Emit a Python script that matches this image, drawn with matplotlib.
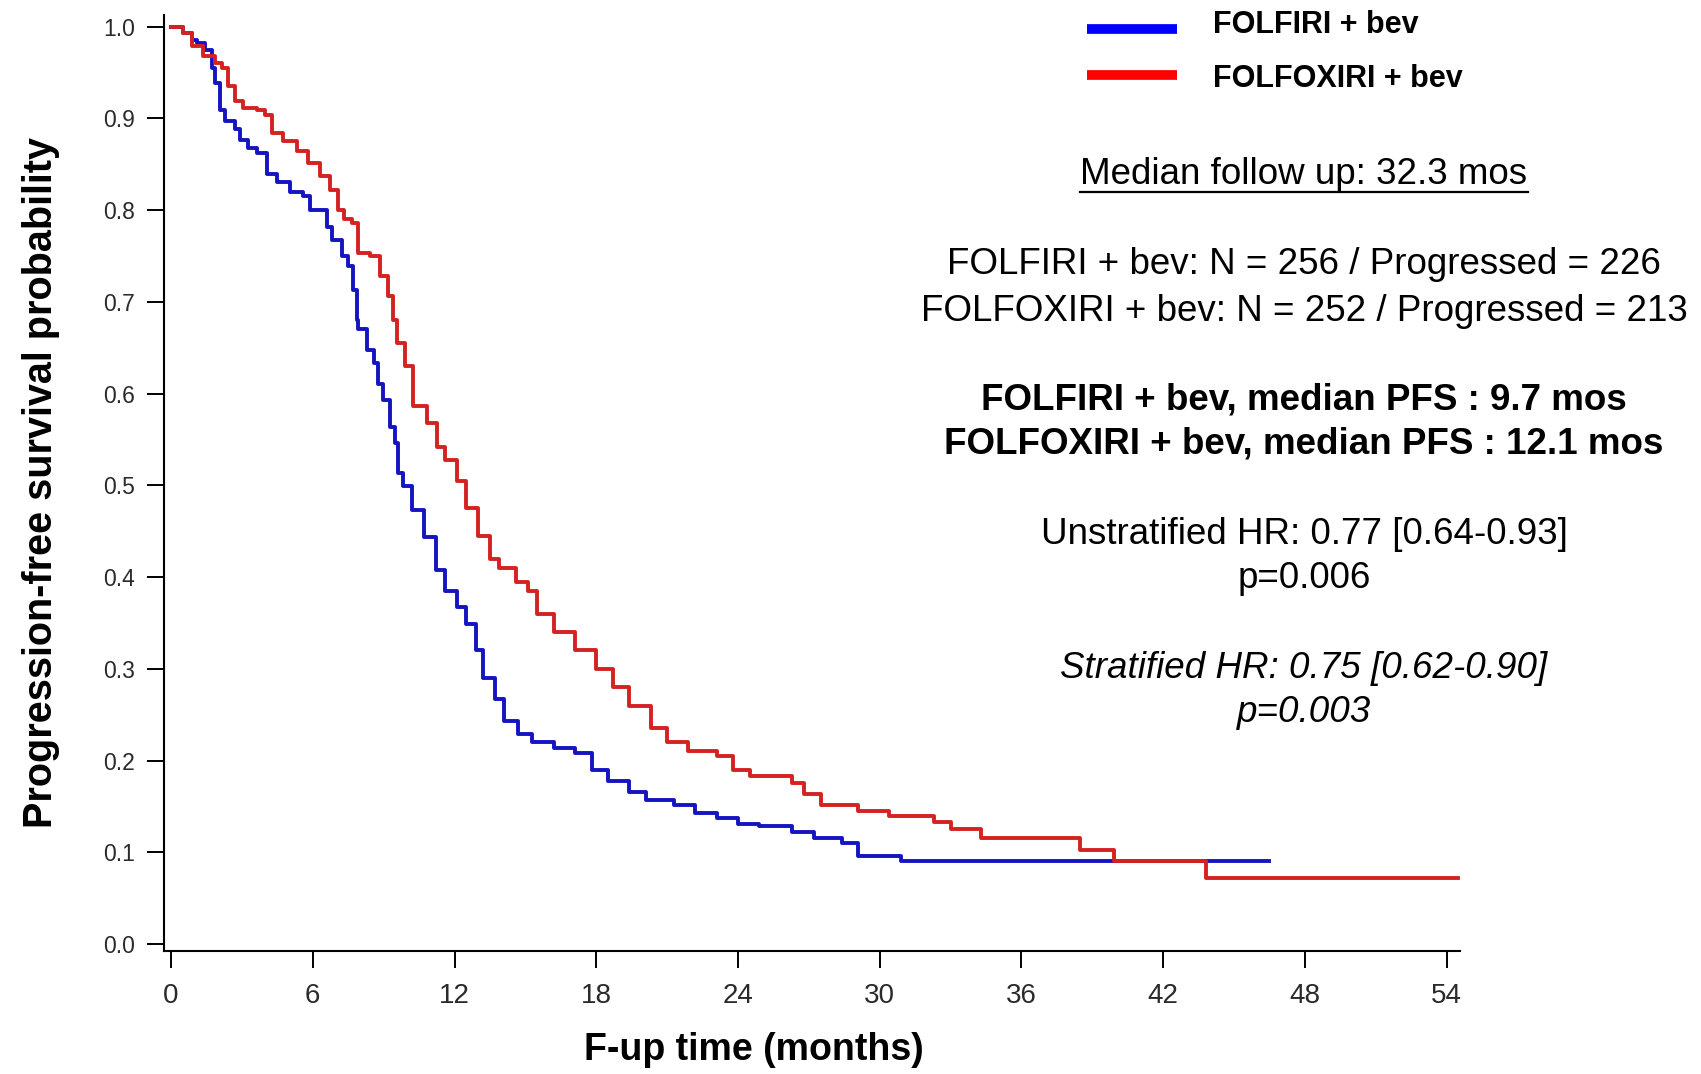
import numpy as np
import matplotlib
matplotlib.use('Agg')
import matplotlib.pyplot as plt
from matplotlib.lines import Line2D

plt.rcParams['font.family'] = ['Liberation Sans', 'DejaVu Sans']

# Kaplan-Meier curves (months, PFS probability)
folfiri_t = [0.0, 0.52, 0.88, 1.09, 1.44, 1.72, 1.86, 2.07, 2.29, 2.71, 2.92, 3.27,
             3.63, 4.05, 4.48, 5.04, 5.60, 5.88, 6.59, 6.80, 7.23, 7.51, 7.72,
             7.86, 7.93, 8.29, 8.57, 8.78, 8.99, 9.27, 9.48, 9.62, 9.83, 10.2,
             10.7, 11.2, 11.6, 12.1, 12.5, 12.9, 13.2, 13.7, 14.1, 14.7, 15.3,
             16.2, 17.1, 17.8, 18.5, 19.4, 20.1, 21.3, 22.2, 23.1, 24.0, 24.9,
             26.3, 27.2, 28.4, 29.1, 30.9, 46.5]
folfiri_s = [1.0, 0.993, 0.985, 0.982, 0.975, 0.955, 0.939, 0.909, 0.897, 0.889,
             0.877, 0.868, 0.862, 0.840, 0.831, 0.820, 0.815, 0.800, 0.782, 0.768,
             0.750, 0.739, 0.713, 0.680, 0.670, 0.648, 0.633, 0.611, 0.593, 0.564,
             0.546, 0.513, 0.499, 0.473, 0.444, 0.408, 0.385, 0.367, 0.349, 0.32,
             0.29, 0.267, 0.243, 0.229, 0.22, 0.214, 0.208, 0.19, 0.178, 0.166,
             0.157, 0.152, 0.143, 0.137, 0.131, 0.129, 0.122, 0.116, 0.11, 0.096,
             0.09, 0.09]

folfoxiri_t = [0.0, 0.52, 0.88, 1.37, 1.86, 2.15, 2.43, 2.71, 3.06, 3.63, 3.98,
               4.26, 4.75, 5.32, 5.81, 6.31, 6.73, 7.08, 7.30, 7.65, 7.93, 8.42,
               8.85, 9.20, 9.41, 9.56, 9.91, 10.26, 10.83, 11.25, 11.6, 12.1,
               12.5, 13.0, 13.5, 13.9, 14.6, 15.1, 15.5, 16.2, 17.1, 18.0, 18.7,
               19.4, 20.3, 21.0, 21.9, 23.1, 23.8, 24.5, 26.3, 26.8, 27.5, 29.1,
               30.4, 32.3, 33.0, 34.3, 38.5, 39.9, 43.8, 54.5]
folfoxiri_s = [1.0, 0.993, 0.979, 0.968, 0.960, 0.955, 0.935, 0.919, 0.911, 0.909,
               0.904, 0.884, 0.875, 0.864, 0.851, 0.837, 0.822, 0.800, 0.790, 0.786,
               0.753, 0.750, 0.728, 0.706, 0.680, 0.655, 0.630, 0.586, 0.568, 0.542,
               0.528, 0.505, 0.475, 0.445, 0.42, 0.41, 0.395, 0.385, 0.36, 0.34,
               0.32, 0.30, 0.28, 0.26, 0.235, 0.22, 0.21, 0.205, 0.19, 0.183,
               0.175, 0.163, 0.152, 0.145, 0.14, 0.133, 0.125, 0.116, 0.103, 0.09,
               0.072, 0.072]

x_ticks = [0, 6, 12, 18, 24, 30, 36, 42, 48, 54]
y_ticks = [0.0, 0.1, 0.2, 0.3, 0.4, 0.5, 0.6, 0.7, 0.8, 0.9, 1.0]

arm_names = ['FOLFIRI + bev', 'FOLFOXIRI + bev']
info_lines = [
    ('Median follow up: 32.3 mos', 'normal', 'normal'),
    ('FOLFIRI + bev: N = 256 / Progressed = 226', 'normal', 'normal'),
    ('FOLFOXIRI + bev: N = 252 / Progressed = 213', 'normal', 'normal'),
    ('FOLFIRI + bev, median PFS : 9.7 mos', 'bold', 'normal'),
    ('FOLFOXIRI + bev, median PFS : 12.1 mos', 'bold', 'normal'),
    ('Unstratified HR: 0.77 [0.64-0.93]', 'normal', 'normal'),
    ('p=0.006', 'normal', 'normal'),
    ('Stratified HR: 0.75 [0.62-0.90]', 'normal', 'italic'),
    ('p=0.003', 'normal', 'italic'),
]
info_y = [175, 265, 311, 400, 444, 534, 579, 668, 713]  # pixel rows

W, H = 1701, 1074
fig = plt.figure(figsize=(W / 100, H / 100), dpi=100)
ax = fig.add_axes([164 / W, 1 - 950.7 / H, (1460 - 164) / W, (950.7 - 15) / H])

ax.step(folfiri_t, folfiri_s, where='post', color='#1414C0', lw=2.8)
ax.step(folfoxiri_t, folfoxiri_s, where='post', color='#D42222', lw=2.8)

ax.set_xlim(-0.3, 54.57)
ax.set_ylim(-0.0073, 1.0128)
ax.set_xticks(x_ticks)
ax.set_yticks(y_ticks)
ax.set_yticklabels([f'{v:.1f}' for v in y_ticks])
ax.tick_params(axis='x', length=12, width=1.4, pad=11, labelsize=20, labelcolor='#2a2a2a')
ax.tick_params(axis='y', length=12, width=1.4, pad=9, labelsize=16.5, labelcolor='#2a2a2a')
for s in ['top', 'right']:
    ax.spines[s].set_visible(False)
for s in ['left', 'bottom']:
    ax.spines[s].set_linewidth(1.5)

ax.set_xlabel('F-up time (months)', fontsize=27, fontweight='bold')
ax.xaxis.set_label_coords((754 - 164) / (1460 - 164), -(1050 - 950.7) / (950.7 - 15))
ax.xaxis.label.set_va('center')
ax.set_ylabel('Progression-free survival probability', fontsize=28.5, fontweight='bold')
ax.yaxis.set_label_coords(-(164 - 41) / (1460 - 164), 0.5)
ax.yaxis.label.set_va('center')

# legend drawn by hand to match the layout
for name, col, ly, ty in zip(arm_names, ['#0000FF', '#FF0000'], [29, 75], [25, 79]):
    fig.add_artist(Line2D([1087 / W, 1177 / W], [1 - ly / H, 1 - ly / H],
                          color=col, lw=7, solid_capstyle='butt'))
    fig.text(1213 / W, 1 - ty / H, name, fontsize=22, fontweight='bold',
             ha='left', va='center')

texts = []
for (txt, wt, st), yy in zip(info_lines, info_y):
    t = fig.text(1304 / W, 1 - yy / H, txt, fontsize=26.5, fontweight=wt,
                 fontstyle=st, ha='center', va='center')
    texts.append(t)

# underline for the follow-up line
fig.canvas.draw()
bb = texts[0].get_window_extent(renderer=fig.canvas.get_renderer())
uy = 1 - 192 / H
fig.add_artist(Line2D([bb.x0 / W, bb.x1 / W], [uy, uy], color='black', lw=1.6))

fig.savefig('out.png', dpi=100)
